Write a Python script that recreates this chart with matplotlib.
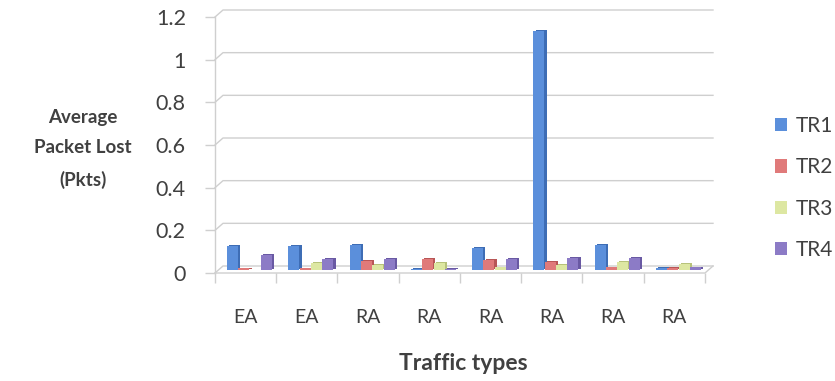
import matplotlib
matplotlib.use("Agg")
import matplotlib.pyplot as plt
from matplotlib.patches import Patch
import numpy as np

plt.rcParams['font.family'] = ['Lato', 'DejaVu Sans']

# ---- data ----
categories = ["EA", "EA", "RA", "RA", "RA", "RA", "RA", "RA"]
series_names = ["TR1", "TR2", "TR3", "TR4"]
tr1 = [0.11, 0.11, 0.115, 0.004, 0.10, 1.12, 0.115, 0.007]
tr2 = [0.005, 0.005, 0.04, 0.05, 0.043, 0.037, 0.01, 0.007]
tr3 = [0.0, 0.03, 0.02, 0.03, 0.01, 0.02, 0.035, 0.025]
tr4 = [0.068, 0.05, 0.05, 0.003, 0.05, 0.055, 0.055, 0.01]
y_ticks = [0, 0.2, 0.4, 0.6, 0.8, 1, 1.2]
y_tick_labels = ["0", "0.2", "0.4", "0.6", "0.8", "1", "1.2"]

series = [tr1, tr2, tr3, tr4]
face_colors = ["#5B8FDB", "#E07A7A", "#DDE7A2", "#8C7BC6"]
side_colors = ["#3E6DB5", "#B85656", "#B7C27A", "#6959A3"]

text_color = "#404040"
grid_color = "#CFCFCF"

W, H = 835, 381
fig = plt.figure(figsize=(W / 100, H / 100), dpi=100)
# plotting box (front plane) in pixels
left_px, right_px, top_px, bottom_px = 215, 705, 17, 273
ax = fig.add_axes([left_px / W, 1 - bottom_px / H,
                   (right_px - left_px) / W, (bottom_px - top_px) / H])
n = len(categories)
ax.set_xlim(0, n)
ax.set_ylim(0, 1.2)

# depth of the pseudo-3D box, converted to data units
depth_px_x, depth_px_y = 8, 7
dx = depth_px_x / (right_px - left_px) * n
dy = depth_px_y / (bottom_px - top_px) * 1.2

for s in ["top", "right", "bottom"]:
    ax.spines[s].set_visible(False)
ax.spines["left"].set_color(grid_color)
ax.spines["left"].set_linewidth(1.0)

# back-wall gridlines and left-wall diagonals
for v in y_ticks:
    ax.plot([0, dx, n + dx], [v, v + dy, v + dy], color=grid_color,
            lw=1.0, clip_on=False, zorder=0.5)
# floor outline
ax.plot([0, n, n + dx], [0, 0, dy], color=grid_color, lw=1.0,
        clip_on=False, zorder=0.5)

# bars (front face + shaded side, sitting at mid depth)
bw = 0.18
step = 0.185
x = np.arange(n) + 0.5
for i, vals in enumerate(series):
    xc = x + (i - 1.5) * step + dx / 2
    ax.bar(xc + 0.035, vals, width=bw, bottom=dy / 2 + dy * 0.12,
           color=side_colors[i], edgecolor="none", zorder=2 + i * 0.1)
    ax.bar(xc, vals, width=bw, bottom=dy / 2, color=face_colors[i],
           edgecolor="none", zorder=2.05 + i * 0.1)

# axes ticks
ax.set_yticks(y_ticks)
ax.set_yticklabels(y_tick_labels)
ax.tick_params(axis="y", length=7, width=1.0, color=grid_color,
               pad=14, labelsize=15.5, labelcolor=text_color)
ax.set_xticks(x)
ax.set_xticklabels(categories)
ax.set_xticks(np.arange(n + 1), minor=True)
ax.tick_params(axis="x", which="major", length=0, pad=26, labelsize=14,
               labelcolor=text_color)
ax.tick_params(axis="x", which="minor", length=7, width=1.0,
               color=grid_color)

fig.text(83 / W, 1 - 149 / H, "Average\nPacket Lost\n(Pkts)",
         ha="center", va="center", fontsize=13.5, fontweight="bold",
         color=text_color, linespacing=1.95)
fig.text(463 / W, 1 - 364 / H, "Traffic types", ha="center", va="center",
         fontsize=16.5, fontweight="bold", color=text_color)

handles = [Patch(facecolor=c, edgecolor="none") for c in face_colors]
fig.legend(handles, series_names, loc="center left",
           bbox_to_anchor=(756 / W, 1 - 188 / H), frameon=False,
           fontsize=15, labelcolor=text_color, handlelength=0.6,
           handleheight=0.6, handletextpad=0.4, labelspacing=1.02)

fig.savefig("out.png", dpi=100)
